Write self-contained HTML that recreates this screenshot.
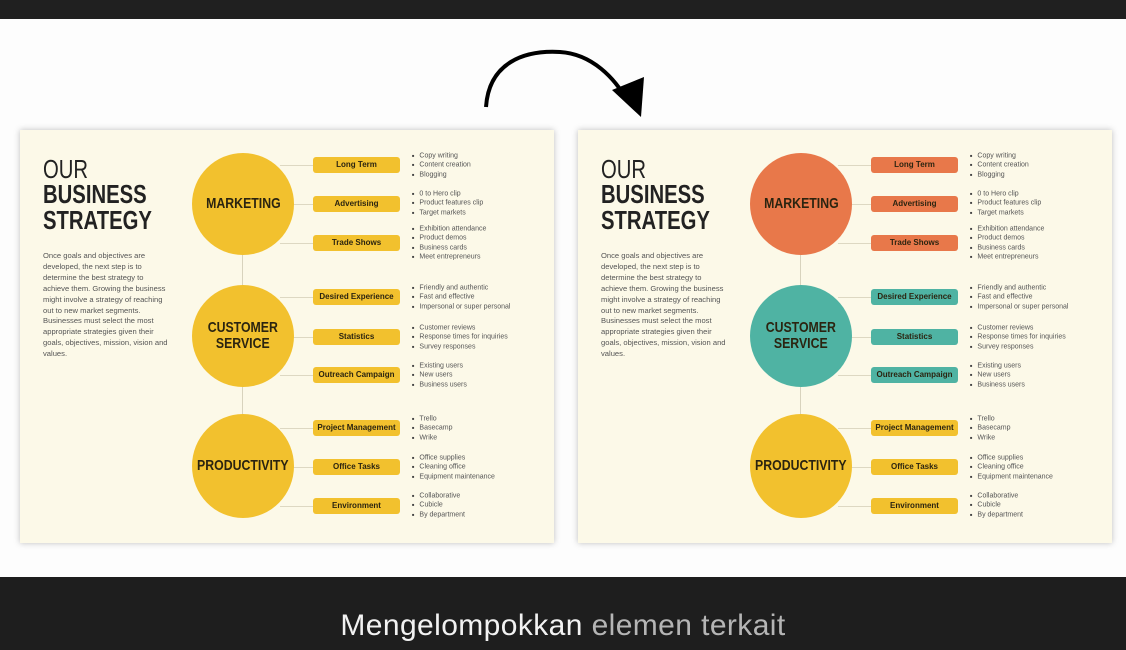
<!DOCTYPE html>
<html><head><meta charset="utf-8"><style>
*{margin:0;padding:0;box-sizing:border-box}
body{width:1126px;height:650px;background:#fdfdfd;position:relative;overflow:hidden;font-family:"Liberation Sans",sans-serif}
.top{position:absolute;left:0;top:0;width:1126px;height:19px;background:#202020}
.bot{position:absolute;left:0;top:577px;width:1126px;height:73px;background:#1e1e1e}
.cap{position:absolute;left:0;width:1126px;top:609px;text-align:center;font-size:30px;color:#f2f2f2;letter-spacing:.4px}
.cap span{color:#b5b5b5}
.card{position:absolute;top:130px;width:534px;height:413px;background:#fcf9e8;box-shadow:0 0 6px rgba(0,0,0,.25)}
.t{position:absolute;left:23px;color:#222;font-size:26px;line-height:26px;transform:scaleX(.78);transform-origin:left}
.p{position:absolute;left:23px;top:121px;width:128px;font-size:7.6px;line-height:10.9px;color:#555}
.vl{position:absolute;left:222px;top:80px;width:1px;height:260px;background:#d8d3bd}
.hl{position:absolute;height:1px;background:#ddd8c2;left:260px;width:36px}
.c{position:absolute;left:172px;width:102px;height:102px;border-radius:50%;display:flex;align-items:center;justify-content:center;text-align:center;font-weight:bold;font-size:15px;line-height:16px;color:#2b2410}
.c b{display:inline-block;transform:scaleX(.82)}
.pl{position:absolute;left:293px;width:87px;height:16px;border-radius:3px;font-size:8px;line-height:16px;text-align:center;color:#2b2410;font-weight:bold}
.b{position:absolute;left:392px;font-size:7px;line-height:9px;color:#555}
.b div:before{content:"■";font-size:4px;vertical-align:middle;margin-right:5px;color:#444}
.y{background:#f2c12e}.o{background:#e8784a}.g{background:#4fb3a3}
</style></head><body>
<div class="top"></div>
<svg style="position:absolute;left:0;top:0" width="1126" height="140">
<path d="M486,107 C489,62 525,50 560,52 C592,54 615,78 628,102" fill="none" stroke="#000" stroke-width="4"/>
<polygon points="641,117 612,90 644,77" fill="#000"/>
</svg>

<div class="card" style="left:20px">
<div class="t" style="top:26px;font-weight:normal">OUR</div>
<div class="t" style="top:51px;font-weight:bold">BUSINESS</div>
<div class="t" style="top:77px;font-weight:bold">STRATEGY</div>
<div class="p">Once goals and objectives are developed, the next step is to determine the best strategy to achieve them. Growing the business might involve a strategy of reaching out to new market segments. Businesses must select the most appropriate strategies given their goals, objectives, mission, vision and values.</div>
<div class="vl"></div>
<div class="hl" style="top:35px"></div><div class="hl" style="top:74px"></div><div class="hl" style="top:113px"></div>
<div class="hl" style="top:167px"></div><div class="hl" style="top:207px"></div><div class="hl" style="top:245px"></div>
<div class="hl" style="top:298px"></div><div class="hl" style="top:337px"></div><div class="hl" style="top:376px"></div>
<div class="c y" style="top:23px"><b>MARKETING</b></div>
<div class="c y" style="top:155px"><b>CUSTOMER<br>SERVICE</b></div>
<div class="c y" style="top:284px;height:104px"><b>PRODUCTIVITY</b></div>
<div class="pl y" style="top:27px">Long Term</div>
<div class="pl y" style="top:66px">Advertising</div>
<div class="pl y" style="top:105px">Trade Shows</div>
<div class="pl y" style="top:159px">Desired Experience</div>
<div class="pl y" style="top:199px">Statistics</div>
<div class="pl y" style="top:237px">Outreach Campaign</div>
<div class="pl y" style="top:290px">Project Management</div>
<div class="pl y" style="top:329px">Office Tasks</div>
<div class="pl y" style="top:368px">Environment</div>
<div class="b" style="top:21px"><div>Copy writing</div><div>Content creation</div><div>Blogging</div></div>
<div class="b" style="top:59px"><div>0 to Hero clip</div><div>Product features clip</div><div>Target markets</div></div>
<div class="b" style="top:94px"><div>Exhibition attendance</div><div>Product demos</div><div>Business cards</div><div>Meet entrepreneurs</div></div>
<div class="b" style="top:153px"><div>Friendly and authentic</div><div>Fast and effective</div><div>Impersonal or super personal</div></div>
<div class="b" style="top:193px"><div>Customer reviews</div><div>Response times for inquiries</div><div>Survey responses</div></div>
<div class="b" style="top:231px"><div>Existing users</div><div>New users</div><div>Business users</div></div>
<div class="b" style="top:284px"><div>Trello</div><div>Basecamp</div><div>Wrike</div></div>
<div class="b" style="top:323px"><div>Office supplies</div><div>Cleaning office</div><div>Equipment maintenance</div></div>
<div class="b" style="top:361px"><div>Collaborative</div><div>Cubicle</div><div>By department</div></div>
</div>

<div class="card" style="left:578px">
<div class="t" style="top:26px;font-weight:normal">OUR</div>
<div class="t" style="top:51px;font-weight:bold">BUSINESS</div>
<div class="t" style="top:77px;font-weight:bold">STRATEGY</div>
<div class="p">Once goals and objectives are developed, the next step is to determine the best strategy to achieve them. Growing the business might involve a strategy of reaching out to new market segments. Businesses must select the most appropriate strategies given their goals, objectives, mission, vision and values.</div>
<div class="vl"></div>
<div class="hl" style="top:35px"></div><div class="hl" style="top:74px"></div><div class="hl" style="top:113px"></div>
<div class="hl" style="top:167px"></div><div class="hl" style="top:207px"></div><div class="hl" style="top:245px"></div>
<div class="hl" style="top:298px"></div><div class="hl" style="top:337px"></div><div class="hl" style="top:376px"></div>
<div class="c o" style="top:23px"><b>MARKETING</b></div>
<div class="c g" style="top:155px"><b>CUSTOMER<br>SERVICE</b></div>
<div class="c y" style="top:284px;height:104px"><b>PRODUCTIVITY</b></div>
<div class="pl o" style="top:27px">Long Term</div>
<div class="pl o" style="top:66px">Advertising</div>
<div class="pl o" style="top:105px">Trade Shows</div>
<div class="pl g" style="top:159px">Desired Experience</div>
<div class="pl g" style="top:199px">Statistics</div>
<div class="pl g" style="top:237px">Outreach Campaign</div>
<div class="pl y" style="top:290px">Project Management</div>
<div class="pl y" style="top:329px">Office Tasks</div>
<div class="pl y" style="top:368px">Environment</div>
<div class="b" style="top:21px"><div>Copy writing</div><div>Content creation</div><div>Blogging</div></div>
<div class="b" style="top:59px"><div>0 to Hero clip</div><div>Product features clip</div><div>Target markets</div></div>
<div class="b" style="top:94px"><div>Exhibition attendance</div><div>Product demos</div><div>Business cards</div><div>Meet entrepreneurs</div></div>
<div class="b" style="top:153px"><div>Friendly and authentic</div><div>Fast and effective</div><div>Impersonal or super personal</div></div>
<div class="b" style="top:193px"><div>Customer reviews</div><div>Response times for inquiries</div><div>Survey responses</div></div>
<div class="b" style="top:231px"><div>Existing users</div><div>New users</div><div>Business users</div></div>
<div class="b" style="top:284px"><div>Trello</div><div>Basecamp</div><div>Wrike</div></div>
<div class="b" style="top:323px"><div>Office supplies</div><div>Cleaning office</div><div>Equipment maintenance</div></div>
<div class="b" style="top:361px"><div>Collaborative</div><div>Cubicle</div><div>By department</div></div>
</div>

<div class="bot"></div>
<div class="cap">Mengelompokkan <span>elemen terkait</span></div>
</body></html>
